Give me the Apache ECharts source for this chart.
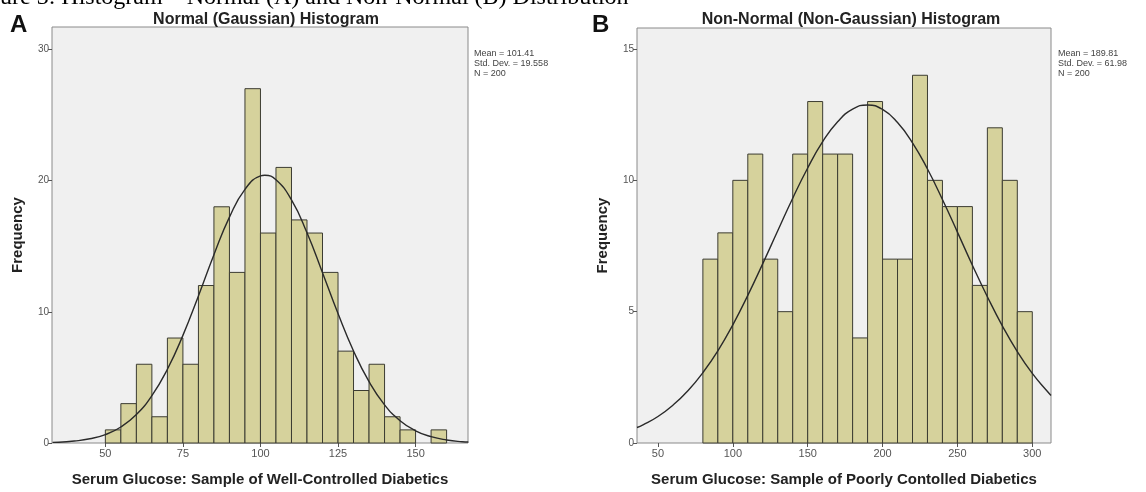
<!DOCTYPE html>
<html>
<head>
<meta charset="utf-8">
<script src="https://cdn.jsdelivr.net/npm/echarts@6/dist/echarts.min.js"></script>
<style>
  html, body { margin: 0; padding: 0; background: #fff; }
  #chart { width: 1146px; height: 492px; }
</style>
</head>
<body>
<div id="chart"></div>
<script>
// panel A: well-controlled, bins of 5
const edgesA = [50, 55, 60, 65, 70, 75, 80, 85, 90, 95, 100, 105, 110, 115, 120, 125, 130, 135, 140, 145, 150, 155, 160];
const countsA = [1, 3, 6, 2, 8, 6, 12, 18, 13, 27, 16, 21, 17, 16, 13, 7, 4, 6, 2, 1, 0, 1];
const curveXA = [33, 35, 40, 45, 50, 55, 60, 65, 70, 75, 80, 85, 90, 95, 100, 101.4, 105, 110, 115, 120, 125, 130, 135, 140, 145, 150, 155, 160, 165, 167];
const curveYA = [0.05, 0.06, 0.15, 0.32, 0.64, 1.22, 2.17, 3.61, 5.62, 8.2, 11.21, 14.35, 17.21, 19.33, 20.35, 20.4, 20.06, 18.52, 16.02, 12.98, 9.86, 7.01, 4.67, 2.91, 1.7, 0.93, 0.48, 0.23, 0.1, 0.08];
const ticksXA = [50, 75, 100, 125, 150];
const ticksYA = [0, 10, 20, 30];
const statsA = ['Mean = 101.41', 'Std. Dev. = 19.558', 'N = 200'];

// panel B: poorly controlled, bins of 10
const edgesB = [80, 90, 100, 110, 120, 130, 140, 150, 160, 170, 180, 190, 200, 210, 220, 230, 240, 250, 260, 270, 280, 290, 300];
const countsB = [7, 8, 10, 11, 7, 5, 11, 13, 11, 11, 4, 13, 7, 7, 14, 10, 9, 9, 6, 12, 10, 5];
const curveXB = [36, 40, 50, 60, 70, 80, 90, 100, 110, 120, 130, 140, 150, 160, 170, 180, 190, 200, 210, 220, 230, 240, 250, 260, 270, 280, 290, 300, 310, 312.5];
const curveYB = [0.59, 0.69, 1.01, 1.44, 1.99, 2.68, 3.51, 4.5, 5.62, 6.83, 8.08, 9.32, 10.47, 11.47, 12.23, 12.71, 12.87, 12.7, 12.2, 11.43, 10.43, 9.27, 8.03, 6.77, 5.57, 4.46, 3.48, 2.65, 1.97, 1.81];
const ticksXB = [50, 100, 150, 200, 250, 300];
const ticksYB = [0, 5, 10, 15];
const statsB = ['Mean = 189.81', 'Std. Dev. = 61.98', 'N = 200'];

const chart = echarts.init(document.getElementById('chart'));

const sans = 'Liberation Sans, Arial, sans-serif';
const barFill = '#d6d29c';
const barEdge = '#3c3c32';

function toBins(edges, counts) {
  const out = [];
  counts.forEach((c, i) => {
    if (c > 0) out.push([edges[i], edges[i + 1], c]);
  });
  return out;
}

function renderBar(params, api) {
  const topLeft = api.coord([api.value(0), api.value(2)]);
  const bottomRight = api.coord([api.value(1), 0]);
  return {
    type: 'rect',
    shape: {
      x: topLeft[0],
      y: topLeft[1],
      width: bottomRight[0] - topLeft[0],
      height: bottomRight[1] - topLeft[1]
    },
    style: { fill: barFill, stroke: barEdge, lineWidth: 1 }
  };
}

function xAxisOf(gridIndex, min, max, ticks, name) {
  return {
    type: 'value',
    gridIndex,
    min,
    max,
    name,
    nameLocation: 'middle',
    nameGap: 29,
    nameTextStyle: { fontFamily: sans, fontWeight: 'bold', fontSize: 15, color: '#222' },
    axisLine: { show: false },
    splitLine: { show: false },
    axisTick: { show: true, length: 4, lineStyle: { color: '#555' }, customValues: ticks },
    axisLabel: { fontFamily: sans, fontSize: 11, color: '#555', margin: 5, customValues: ticks }
  };
}

function yAxisOf(gridIndex, max, ticks) {
  return {
    type: 'value',
    gridIndex,
    min: 0,
    max,
    name: 'Frequency',
    nameLocation: 'middle',
    nameGap: 27,
    nameRotate: 90,
    nameTextStyle: { fontFamily: sans, fontWeight: 'bold', fontSize: 15, color: '#222' },
    axisLine: { show: false },
    splitLine: { show: false },
    axisTick: { show: true, length: 4, lineStyle: { color: '#555' }, customValues: ticks },
    axisLabel: { fontFamily: sans, fontSize: 10, color: '#555', margin: 3, customValues: ticks }
  };
}

function statsText(x, y0, lines) {
  return lines.map((t, i) => ({
    type: 'text',
    left: x,
    top: y0 + i * 10,
    style: { text: t, fontFamily: sans, fontSize: 9, fill: '#444' }
  }));
}

const option = {
  backgroundColor: '#fff',
  animation: false,
  title: [
    {
      text: 'Normal (Gaussian) Histogram',
      left: 261, top: 7, textAlign: 'center',
      textStyle: { fontFamily: sans, fontWeight: 'bold', fontSize: 16, color: '#222' }
    },
    {
      text: 'Non-Normal (Non-Gaussian) Histogram',
      left: 846, top: 7, textAlign: 'center',
      textStyle: { fontFamily: sans, fontWeight: 'bold', fontSize: 16, color: '#222' }
    }
  ],
  grid: [
    { left: 52, top: 27, width: 416, height: 417, show: true, backgroundColor: '#f0f0f0', borderColor: '#8a8a8a', borderWidth: 1 },
    { left: 637, top: 28, width: 414, height: 415, show: true, backgroundColor: '#f0f0f0', borderColor: '#8a8a8a', borderWidth: 1 }
  ],
  xAxis: [
    xAxisOf(0, 32.8, 166.9, ticksXA, 'Serum Glucose: Sample of Well-Controlled Diabetics'),
    xAxisOf(1, 36, 312.5, ticksXB, 'Serum Glucose: Sample of Poorly Contolled Diabetics')
  ],
  yAxis: [
    yAxisOf(0, 31.7, ticksYA),
    yAxisOf(1, 15.8, ticksYB)
  ],
  series: [
    {
      type: 'custom', xAxisIndex: 0, yAxisIndex: 0,
      renderItem: renderBar,
      encode: { x: [0, 1], y: 2 },
      data: toBins(edgesA, countsA)
    },
    {
      type: 'line', xAxisIndex: 0, yAxisIndex: 0,
      data: curveXA.map((x, i) => [x, curveYA[i]]),
      smooth: true, showSymbol: false, z: 5,
      lineStyle: { color: '#2a2a2a', width: 1.4 }
    },
    {
      type: 'custom', xAxisIndex: 1, yAxisIndex: 1,
      renderItem: renderBar,
      encode: { x: [0, 1], y: 2 },
      data: toBins(edgesB, countsB)
    },
    {
      type: 'line', xAxisIndex: 1, yAxisIndex: 1,
      data: curveXB.map((x, i) => [x, curveYB[i]]),
      smooth: true, showSymbol: false, z: 5,
      lineStyle: { color: '#2a2a2a', width: 1.4 }
    }
  ],
  graphic: [
    {
      type: 'text', left: -32, top: -14,
      style: {
        text: 'Figure 3: Histogram \u2013 Normal (A) and Non-Normal (B) Distribution',
        fontFamily: 'Liberation Serif, Times New Roman, serif', fontSize: 24, fill: '#000'
      }
    },
    { type: 'text', left: 10, top: 13, style: { text: 'A', fontFamily: sans, fontWeight: 'bold', fontSize: 24, fill: '#111' } },
    { type: 'text', left: 592, top: 13, style: { text: 'B', fontFamily: sans, fontWeight: 'bold', fontSize: 24, fill: '#111' } },
    ...statsText(474, 49, statsA),
    ...statsText(1058, 49, statsB)
  ]
};

chart.setOption(option);
</script>
</body>
</html>
